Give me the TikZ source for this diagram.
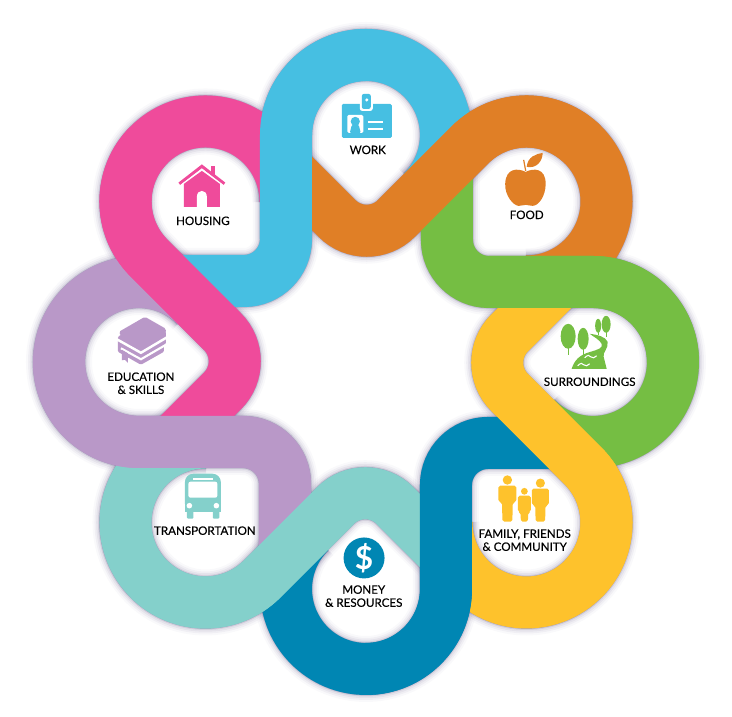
\documentclass[tikz,border=0pt]{standalone}
\usepackage{fontspec}
\setmainfont{Lato}
\newfontfamily\lblfont[RawFeature={embolden=0.35}]{Lato}
\definecolor{workblue}{HTML}{46BFE2}
\definecolor{foodorange}{HTML}{E07F26}
\definecolor{surrgreen}{HTML}{75BE43}
\definecolor{familyyellow}{HTML}{FEC22C}
\definecolor{moneyblue}{HTML}{0086B3}
\definecolor{transteal}{HTML}{84D0CB}
\definecolor{eduviolet}{HTML}{B998C8}
\definecolor{housepink}{HTML}{EF4B9B}
\definecolor{edgeshade}{HTML}{4E4278}
\newcommand{\bandfull}{(-1.94,.81) -- (-1.22,.81) arc[start angle=-90,end angle=0,radius=.42] -- (-.80,2.27) arc[start angle=180,end angle=-45,radius=.80]}
\newcommand{\bandtop}{(-.80,1.23) -- (-.80,2.27) arc[start angle=180,end angle=90,radius=.80]}
\tikzset{
  lbl/.style={text=black,align=center,inner sep=0pt,font=\lblfont\fontsize{3.3}{3.72}\selectfont},
  pxgrid/.style={shift={(-3.66,3.62)},x=0.01cm,y=-0.01cm},
}
\begin{document}
\begin{tikzpicture}
  \useasboundingbox (-3.66,-3.55) rectangle (3.66,3.62);
  % soft edge under everything
  \foreach \i in {0,...,7}
    \foreach \w/\op in {.66/.03,.62/.05,.585/.07,.55/.12,.528/.3}
      \draw[edgeshade,opacity=\op,line width=\w cm,rotate=-45*\i] \bandfull;
  % whole bands, ends get covered below
  \foreach \col [count=\i from 0] in {workblue,foodorange,surrgreen,familyyellow,moneyblue,transteal,eduviolet,housepink}
    \draw[\col,line width=.52cm,rotate=-45*\i] \bandfull;
  \foreach \col [count=\i from 0] in {workblue,foodorange,surrgreen,familyyellow,moneyblue,transteal,eduviolet,housepink}
    \draw[\col,line width=.52cm,rotate=-45*\i] \bandtop;

  \begin{scope}[pxgrid]
    % badge
    \fill[workblue,rounded corners=.4pt] (342,104) rectangle (392,138);
    \fill[white,rounded corners=.7pt] (360,92) rectangle (373,111);
    \fill[workblue,rounded corners=.6pt] (362,94) rectangle (371,109);
    \fill[white] (367,100) circle (1.7);
    \fill[white,rounded corners=.4pt] (347.5,115) rectangle (363.5,133);
    \fill[workblue] (355.5,121.5) circle (4.6);
    \fill[workblue,rounded corners=.3pt] (350,133) -- (352,125) -- (359,125) -- (361,133) -- cycle;
    \fill[white] (368,121) rectangle (383,123);
    \fill[white] (368,128) rectangle (383,130);
    % apple
    \fill[foodorange] (526,172) .. controls (518,168) and (506,168) .. (505.5,184)
      .. controls (505,196) and (514,206) .. (519,206) .. controls (522,206) and (524,205) .. (526,205)
      .. controls (528,205) and (530,206) .. (533,206) .. controls (539,206) and (546,196) .. (546,184)
      .. controls (546,168) and (534,168) .. (526,172) -- cycle;
    \fill[foodorange] (527,167) .. controls (528,157) and (536,154) .. (543,153)
      .. controls (543,161) and (537,169) .. (527,167) -- cycle;
    \draw[foodorange,line width=.35pt] (524,160) -- (526,171);
    % trees and river
    \fill[surrgreen] (568.5,336.5) ellipse (7.5 and 12.5);
    \fill[surrgreen] (583.5,339) ellipse (5.5 and 11);
    \fill[surrgreen] (598.5,326) ellipse (3 and 7);
    \fill[surrgreen] (606.5,324.5) ellipse (4.5 and 8.5);
    \draw[surrgreen,line width=.35pt] (568.5,340) -- (568.5,355);
    \draw[surrgreen,line width=.35pt] (583.5,340) -- (583.5,357);
    \draw[surrgreen,line width=.3pt] (598.5,328) -- (598.5,335);
    \draw[surrgreen,line width=.3pt] (606.5,328) -- (606.5,337);
    \fill[surrgreen] (572,369) .. controls (575,360) and (580,355) .. (591,352)
      .. controls (598,350) and (604,348) .. (602,344) .. controls (600,340) and (594,337) .. (590,334)
      .. controls (598,335) and (606,337) .. (608,342) .. controls (609,349) and (603,352) .. (604,357)
      -- (607,369) -- cycle;
    \draw[white,line width=.3pt] (585,358) .. controls (588,355) and (590,355) .. (591,357) .. controls (593,359) and (595,358) .. (597,356);
    \draw[white,line width=.3pt] (578,366) .. controls (581,363) and (583,363) .. (584,365) .. controls (586,367) and (588,366) .. (590,364);
    % family
    \foreach \fx/\ftop/\fw/\fhd in {507.7/486/9/4.7,540.7/489/8.6/4.6,524.7/496/6.4/3.4}{
      \fill[familyyellow] (\fx,\ftop-\fhd-1) circle (\fhd);
      \fill[familyyellow,rounded corners=.5pt] ({\fx-\fw},\ftop) -- ({\fx+\fw},\ftop) -- ({\fx+\fw},{\ftop+16})
        -- ({\fx+.6*\fw},{\ftop+17}) -- ({\fx+.55*\fw},522) -- ({\fx-.55*\fw},522) -- ({\fx-.6*\fw},{\ftop+17})
        -- ({\fx-\fw},{\ftop+16}) -- cycle;
    }
    % dollar
    \fill[moneyblue] (364.3,558.3) circle (20.5);
    \node[text=white,inner sep=0pt,font=\fontsize{9}{9}\selectfont\bfseries] (dollarsign) at (364.3,558.3) {\$};
    % bus
    \fill[transteal,rounded corners=2.4pt] (185,512) -- (185,474) -- (221,474) -- (221,512) -- cycle;
    \fill[transteal] (185,500) rectangle (221,512);
    \fill[transteal,rounded corners=.3pt] (187,510) rectangle (193.5,519);
    \fill[transteal,rounded corners=.3pt] (213,510) rectangle (219.5,519);
    \fill[white,rounded corners=.6pt] (188.5,482) rectangle (217.5,498);
    \fill[white] (193,478) rectangle (213,480);
    \fill[white] (189.5,506) circle (2.8);
    \fill[white] (216.5,506) circle (2.8);
    % books
    \fill[eduviolet,rounded corners=.3pt] (118,337) -- (118,352) -- (141,365) -- (164,352) -- (164,345) -- (166,344) -- (166,332) -- (145,320) -- cycle;
    \draw[white,line width=.7pt] (116,339) -- (141,353) -- (168,337);
    \draw[white,line width=.6pt] (121,348.5) -- (141,359.5) -- (166,345);
    \fill[eduviolet,rounded corners=.45pt] (119,332) -- (145,317) -- (166,329) -- (166,333) -- (140,348) -- (122,338) -- cycle;
    \fill[eduviolet] (122,350) -- (128,353.5) -- (128,363) -- (125,360) -- (122,360.5) -- cycle;
    % house
    \draw[housepink,line width=.9pt] (179.5,184) -- (202,166.5) -- (224.5,184);
    \fill[housepink] (211,166) rectangle (215.5,175);
    \draw[white,line width=.4pt] (179,187) -- (202,169.5) -- (225,187);
    \fill[housepink] (184,207) -- (184,184) -- (202,171) -- (220,184) -- (220,207) -- cycle;
    \fill[white] (197,207) -- (197,197) .. controls (197,189) and (207,189) .. (207,197) -- (207,207) -- cycle;
    % labels
    \node[lbl] (worklbl) at (368,150) {WORK};
    \node[lbl] (foodlbl) at (527,215) {FOOD};
    \node[lbl] (surrlbl) at (590,382) {SURROUNDINGS};
    \node[lbl] (famlbl) at (525,540.5) {FAMILY, FRIENDS\\\& COMMUNITY};
    \node[lbl] (monlbl) at (364,596.5) {MONEY\\\& RESOURCES};
    \node[lbl] (translbl) at (205,531) {TRANSPORTATION};
    \node[lbl] (edulbl) at (141,383.5) {EDUCATION\\\& SKILLS};
    \node[lbl] (houselbl) at (203,221) {HOUSING};
  \end{scope}
\end{tikzpicture}
\end{document}
